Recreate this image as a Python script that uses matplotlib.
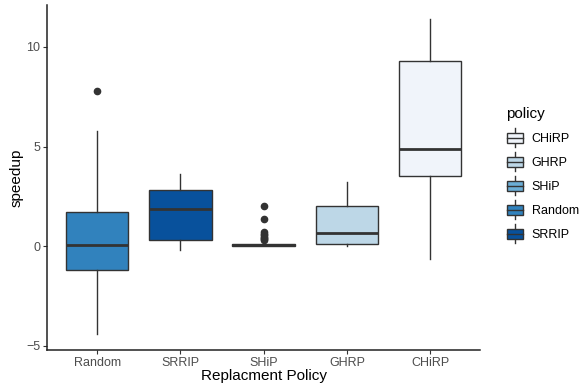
import matplotlib
matplotlib.use("Agg")
import matplotlib.pyplot as plt
from matplotlib.legend_handler import HandlerBase
from matplotlib.patches import Rectangle
from matplotlib.lines import Line2D

plt.rcParams['font.family'] = ['Liberation Sans', 'DejaVu Sans']

# x order on the axis
policies = ["Random", "SRRIP", "SHiP", "GHRP", "CHiRP"]
whislo = [-4.4, -0.2, 0.0, 0.0, -0.65]
q1 = [-1.2, 0.3, 0.02, 0.1, 3.5]
med = [0.07, 1.85, 0.06, 0.65, 4.9]
q3 = [1.7, 2.8, 0.12, 2.0, 9.3]
whishi = [5.8, 3.6, 0.2, 3.2, 11.4]
fliers = [[7.8], [], [2.0, 1.35, 0.72, 0.62, 0.55, 0.48, 0.42, 0.36, 0.3], [], []]

colors = {"CHiRP": "#f0f4fa", "GHRP": "#bdd7e7", "SHiP": "#6baed6",
          "Random": "#3182bd", "SRRIP": "#08519c"}
legend_order = ["CHiRP", "GHRP", "SHiP", "Random", "SRRIP"]

stats = []
for i, p in enumerate(policies):
    stats.append(dict(label=p, whislo=whislo[i], q1=q1[i], med=med[i],
                      q3=q3[i], whishi=whishi[i], fliers=fliers[i]))

fig = plt.figure(figsize=(5.82, 3.90), dpi=100)
ax = fig.add_axes([0.081, 0.103, 0.744, 0.884])

dark = "#333333"
bp = ax.bxp(stats, positions=range(len(policies)), widths=0.75, patch_artist=True,
            showcaps=False,
            boxprops=dict(edgecolor=dark, linewidth=1.0),
            medianprops=dict(color=dark, linewidth=2.0),
            whiskerprops=dict(color=dark, linewidth=1.0),
            flierprops=dict(marker="o", markerfacecolor=dark, markeredgecolor=dark,
                            markersize=4.5))
for patch, p in zip(bp["boxes"], policies):
    patch.set_facecolor(colors[p])

ax.set_xlim(-0.6, 4.6)
ax.set_ylim(-5.2, 12.1)
ax.set_yticks([-5, 0, 5, 10])
ax.set_xticks(range(len(policies)))
ax.set_xticklabels(policies)

for s in ["top", "right"]:
    ax.spines[s].set_visible(False)
for s in ["left", "bottom"]:
    ax.spines[s].set_color("#222222")
    ax.spines[s].set_linewidth(1.1)
ax.tick_params(axis="both", colors="#333333", labelcolor="#4d4d4d", labelsize=9,
               length=3, width=0.8, pad=2)

ax.set_xlabel("Replacment Policy", fontsize=11, labelpad=0)
ax.set_ylabel("speedup", fontsize=11, labelpad=2)


class BoxKeyHandler(HandlerBase):
    def create_artists(self, legend, orig_handle, xdescent, ydescent, width, height,
                       fontsize, trans):
        fc = orig_handle.get_facecolor()
        bw = width * 0.9
        x0 = -xdescent + (width - bw) / 2
        bh = height * 0.72
        y0 = -ydescent + (height - bh) / 2
        rect = Rectangle((x0, y0), bw, bh, facecolor=fc, edgecolor=dark,
                         linewidth=1.0, transform=trans)
        cx = -xdescent + width / 2
        mid = y0 + bh / 2
        mline = Line2D([x0, x0 + bw], [mid, mid], color=dark, linewidth=1.0,
                       transform=trans)
        vline = Line2D([cx, cx], [-ydescent - height * 0.2, -ydescent + height * 1.2],
                       color=dark, linewidth=1.0, transform=trans)
        return [vline, rect, mline]


handles = [Rectangle((0, 0), 1, 1, facecolor=colors[p]) for p in legend_order]
leg = fig.legend(handles, legend_order, loc="upper left",
                 bbox_to_anchor=(0.85, 0.755), frameon=False, title="policy",
                 fontsize=9, title_fontsize=11, handlelength=1.45, handleheight=1.3,
                 labelspacing=0.8, handletextpad=0.6,
                 handler_map={Rectangle: BoxKeyHandler()})
leg._legend_box.align = "left"

fig.savefig("out.png", dpi=100)
